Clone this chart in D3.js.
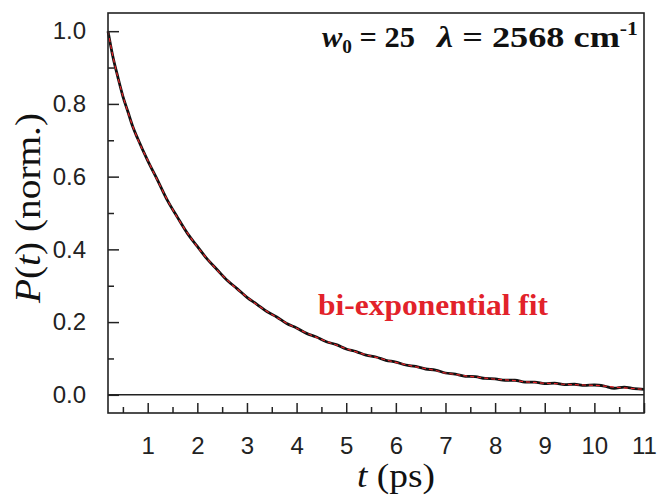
<!DOCTYPE html>
<html>
<head>
<meta charset="utf-8">
<script src="https://cdn.jsdelivr.net/npm/d3@7"></script>
<style>
  html, body { margin: 0; padding: 0; background: #fff; }
  svg { display: block; }
</style>
</head>
<body>
<svg id="chart" width="657" height="495"></svg>
<script>
// ---- data ----
const tValues = [0.2, 0.3, 0.4, 0.5, 0.6, 0.7, 0.8, 1.0, 1.2, 1.4, 1.6, 1.8, 2.0, 2.2, 2.4, 2.6, 2.8, 3.0, 3.2, 3.4, 3.6, 3.8, 4.0,
  4.2, 4.4, 4.6, 4.8, 5.0, 5.2, 5.4, 5.6, 5.8, 6.0, 6.2, 6.4, 6.6, 6.8, 7.0, 7.2, 7.4, 7.6, 7.8, 8.0,
  8.2, 8.4, 8.6, 8.8, 9.0, 9.2, 9.4, 9.6, 9.8, 10.0, 10.2, 10.4, 10.6, 10.8, 11.0];
const simValues = [1.000, 0.929, 0.873, 0.821, 0.779, 0.737, 0.704, 0.644, 0.590, 0.534, 0.488, 0.444, 0.408, 0.373, 0.344, 0.315, 0.292, 0.268, 0.249, 0.229, 0.214, 0.196, 0.184,
  0.169, 0.159, 0.146, 0.138, 0.126, 0.119, 0.109, 0.104, 0.095, 0.090, 0.082, 0.078, 0.071, 0.068, 0.060, 0.057, 0.051, 0.050, 0.045, 0.044,
  0.040, 0.040, 0.035, 0.035, 0.031, 0.032, 0.028, 0.029, 0.026, 0.027, 0.024, 0.018, 0.021, 0.017, 0.015];
const fitValues = [1.000, 0.930, 0.872, 0.822, 0.778, 0.738, 0.703, 0.645, 0.589, 0.535, 0.487, 0.445, 0.407, 0.374, 0.343, 0.316, 0.291, 0.269, 0.248, 0.230, 0.213, 0.197, 0.183,
  0.170, 0.158, 0.147, 0.137, 0.127, 0.118, 0.110, 0.103, 0.096, 0.089, 0.083, 0.077, 0.072, 0.067, 0.060, 0.056, 0.052, 0.049, 0.046, 0.043,
  0.041, 0.039, 0.036, 0.034, 0.032, 0.031, 0.029, 0.028, 0.027, 0.026, 0.024, 0.021, 0.019, 0.017, 0.015];
const xMajorTicks = [1, 2, 3, 4, 5, 6, 7, 8, 9, 10, 11];
const xMinorTicks = [0.5, 1.5, 2.5, 3.5, 4.5, 5.5, 6.5, 7.5, 8.5, 9.5, 10.5];
const yMajorTicks = [0.0, 0.2, 0.4, 0.6, 0.8, 1.0];
const yMinorTicks = [0.1, 0.3, 0.5, 0.7, 0.9];
const fitLabel = "bi-exponential fit";

// ---- layout ----
const L = 108, R = 644, T = 13, B = 413;
const svg = d3.select("#chart");
const x = d3.scaleLinear().domain([0.2, 11]).range([L, R]);
const y = d3.scaleLinear().domain([-0.05, 1.05]).range([B, T]);

const tickFont = "'Liberation Sans', Arial, sans-serif";
const serif = "'Liberation Serif', 'Times New Roman', Times, serif";

// zero line
svg.append("line").attr("x1", L).attr("x2", R).attr("y1", y(0)).attr("y2", y(0))
  .attr("stroke", "#222").attr("stroke-width", 1.5);

// curves
const simData = tValues.map((t, i) => [t, simValues[i]]);
const fitData = tValues.map((t, i) => [t, fitValues[i]]);
const simLine = d3.line().x(d => x(d[0])).y(d => y(d[1])).curve(d3.curveMonotoneX);
const fitLine = d3.line().x(d => x(d[0])).y(d => y(d[1])).curve(d3.curveMonotoneX);
svg.append("path").datum(simData).attr("d", simLine)
  .attr("fill", "none").attr("stroke", "#111").attr("stroke-width", 2.8).attr("stroke-linejoin", "round");
svg.append("path").datum(fitData).attr("d", fitLine)
  .attr("fill", "none").attr("stroke", "#e8262b").attr("stroke-width", 1.2).attr("stroke-dasharray", "4,3");

// x axis (ticks inward)
const xAxis = d3.axisBottom(x).tickValues(xMajorTicks).tickSizeInner(-10).tickSizeOuter(0).tickPadding(24)
  .tickFormat(d3.format("d"));
const gx = svg.append("g").attr("transform", `translate(0,${B})`).call(xAxis);
gx.select(".domain").remove();
gx.selectAll(".tick line").attr("stroke", "#222").attr("stroke-width", 1.5);
gx.selectAll(".tick text").attr("font-family", tickFont).attr("font-size", 24).attr("fill", "#222");
const xMinor = d3.axisBottom(x).tickValues(xMinorTicks).tickSizeInner(-6).tickSizeOuter(0).tickFormat("");
const gxm = svg.append("g").attr("transform", `translate(0,${B})`).call(xMinor);
gxm.select(".domain").remove();
gxm.selectAll(".tick line").attr("stroke", "#222").attr("stroke-width", 1.5);

// y axis
const yAxis = d3.axisLeft(y).tickValues(yMajorTicks).tickSizeInner(-11).tickSizeOuter(0).tickPadding(22)
  .tickFormat(d3.format(".1f"));
const gy = svg.append("g").attr("transform", `translate(${L},0)`).call(yAxis);
gy.select(".domain").remove();
gy.selectAll(".tick line").attr("stroke", "#222").attr("stroke-width", 1.5);
gy.selectAll(".tick text").attr("font-family", tickFont).attr("font-size", 24).attr("fill", "#222");
const yMinor = d3.axisLeft(y).tickValues(yMinorTicks).tickSizeInner(-6).tickSizeOuter(0).tickFormat("");
const gym = svg.append("g").attr("transform", `translate(${L},0)`).call(yMinor);
gym.select(".domain").remove();
gym.selectAll(".tick line").attr("stroke", "#222").attr("stroke-width", 1.5);

// frame
svg.append("rect").attr("x", L).attr("y", T).attr("width", R - L).attr("height", B - T)
  .attr("fill", "none").attr("stroke", "#222").attr("stroke-width", 1.6);

// annotation top
const ann = svg.append("text").attr("x", 322).attr("y", 47)
  .attr("textLength", 93).attr("lengthAdjust", "spacingAndGlyphs")
  .attr("font-family", serif).attr("font-weight", "bold").attr("font-size", 30).attr("fill", "#111");
ann.append("tspan").attr("font-style", "italic").text("w");
ann.append("tspan").attr("font-size", 19).attr("dy", 6).text("0");
ann.append("tspan").attr("dy", -6).text(" = 25");
const ann2 = svg.append("text").attr("x", 437).attr("y", 47)
  .attr("textLength", 201).attr("lengthAdjust", "spacingAndGlyphs")
  .attr("font-family", serif).attr("font-weight", "bold").attr("font-size", 30).attr("fill", "#111");
ann2.append("tspan").attr("font-style", "italic").text("λ");
ann2.append("tspan").text(" = 2568 cm");
ann2.append("tspan").attr("font-size", 18).attr("dy", -12).text("-1");

// fit label
svg.append("text").attr("x", 318).attr("y", 315)
  .attr("textLength", 230).attr("lengthAdjust", "spacingAndGlyphs")
  .attr("font-family", serif).attr("font-weight", "bold").attr("font-size", 30).attr("fill", "#e2222a")
  .text(fitLabel);

// axis labels
const xl = svg.append("text").attr("x", 357).attr("y", 487)
  .attr("textLength", 78).attr("lengthAdjust", "spacingAndGlyphs")
  .attr("font-family", serif).attr("font-size", 34).attr("fill", "#111");
xl.append("tspan").attr("font-style", "italic").text("t");
xl.append("tspan").text(" (ps)");

const yl = svg.append("text").attr("transform", "translate(40,303) rotate(-90)")
  .attr("textLength", 190).attr("lengthAdjust", "spacingAndGlyphs")
  .attr("font-family", serif).attr("font-size", 35).attr("fill", "#111");
yl.append("tspan").attr("font-style", "italic").text("P");
yl.append("tspan").text("(");
yl.append("tspan").attr("font-style", "italic").text("t");
yl.append("tspan").text(") (norm.)");
</script>
</body>
</html>
